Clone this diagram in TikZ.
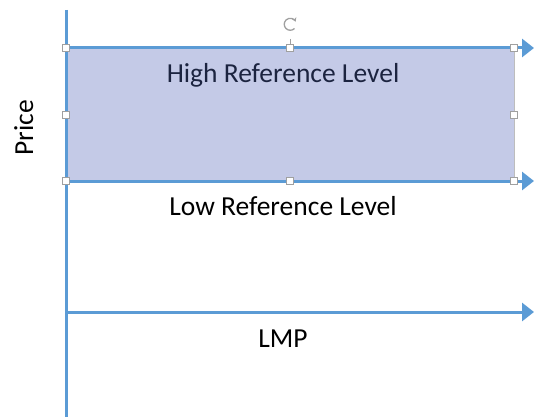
\documentclass[tikz,border=0pt]{standalone}
\usepackage{fontspec}
\setmainfont{Carlito}
\usetikzlibrary{arrows.meta}
\definecolor{axisblue}{RGB}{91,155,213}
\definecolor{bandfill}{RGB}{196,202,231}
\definecolor{bandtext}{RGB}{28,36,64}
\definecolor{handlegray}{RGB}{160,160,160}
\tikzset{
  axisline/.style={draw=axisblue, line width=3pt},
  axisarrow/.style={axisline, -{Triangle[length=12pt,width=18pt]}},
  band/.style={fill=bandfill, draw=handlegray!70, line width=1pt},
  lbl/.style={font=\fontsize{27.5}{32}\selectfont, anchor=base, inner sep=0pt},
  handle/.style={draw=handlegray, fill=white, line width=0.8pt, minimum size=7pt,
                 inner sep=0pt, rectangle},
}
\begin{document}
\begin{tikzpicture}[x=1pt,y=-1pt]
  \useasboundingbox (0,0) rectangle (534,417);

  % reference band
  \path[band] (66,48) rectangle (514,181);

  % axes and levels
  \coordinate (ytop) at (66,10);
  \coordinate (ybot) at (66,417);
  \coordinate (hi0) at (66,48);   \coordinate (hi1) at (534,48);
  \coordinate (lo0) at (66,181);  \coordinate (lo1) at (534,181);
  \coordinate (lmp0) at (66,312); \coordinate (lmp1) at (534,312);
  \draw[axisline] (ytop) -- (ybot);
  \draw[axisarrow] (hi0) -- (hi1);
  \draw[axisarrow] (lo0) -- (lo1);
  \draw[axisarrow] (lmp0) -- (lmp1);

  % labels
  \node[lbl, text=bandtext] (high) at (283,83) {High Reference Level};
  \node[lbl] (low) at (283,215) {Low Reference Level};
  \node[lbl] (lmp) at (283,347) {LMP};
  \node[lbl, rotate=90] (price) at (33,128) {Price};

  % selection handles
  \draw[handlegray, line width=0.8pt] (290,39) -- (290,48);
  \draw[handlegray, line width=1.3pt, -{Stealth[length=4pt,width=5pt]}]
    (294.5,28.5) arc[start angle=45, end angle=335, radius=6];
  \foreach \hx/\hy/\hn in {66/48/h1, 290/48/h2, 514/48/h3, 514/115/h4,
                           514/181/h5, 290/181/h6, 66/181/h7, 66/115/h8}
    \node[handle] (\hn) at (\hx,\hy) {};
\end{tikzpicture}
\end{document}
